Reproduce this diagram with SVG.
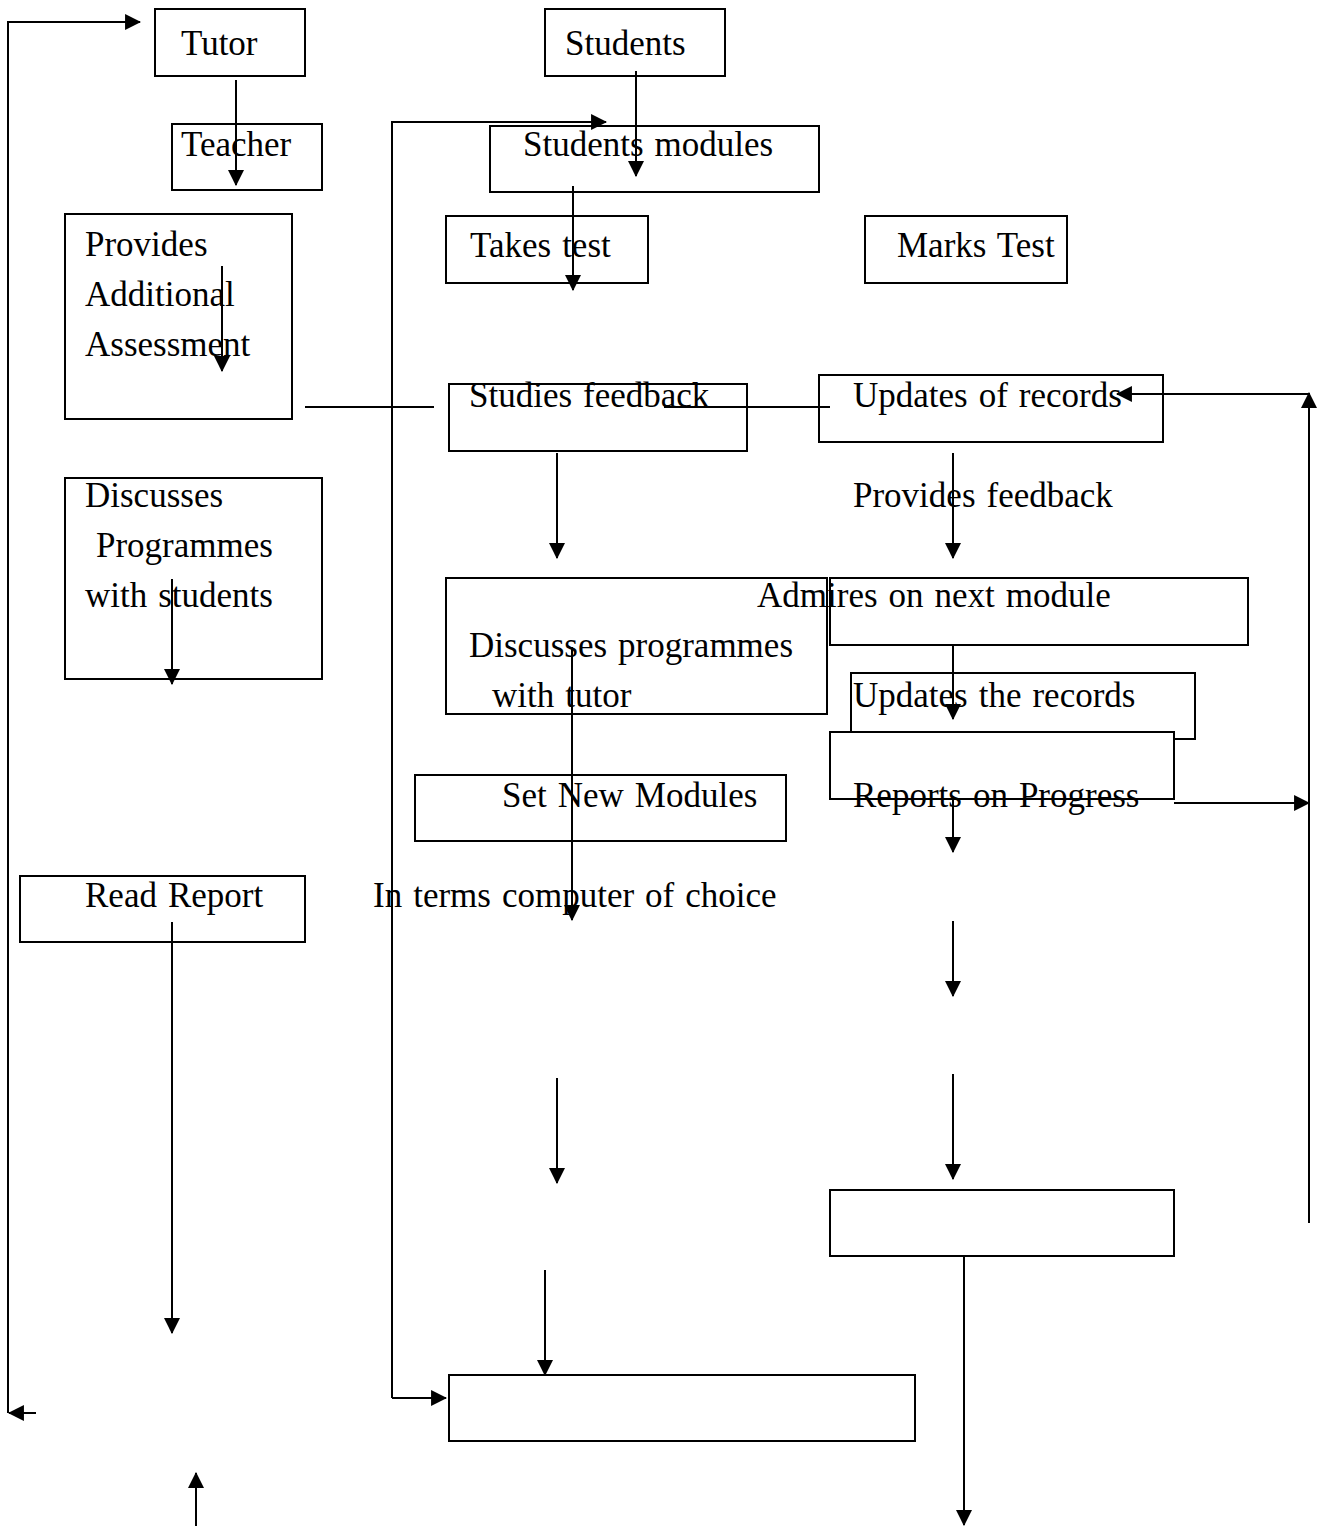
<svg xmlns="http://www.w3.org/2000/svg" width="1322" height="1526" viewBox="0 0 1322 1526">
<style>
.box{fill:#fff;stroke:#000;stroke-width:2}
.t{font-family:"Liberation Serif","Times New Roman",serif;font-size:35px;word-spacing:2.25px;fill:#000}
.c{fill:none;stroke:#000;stroke-width:2}
.a{marker-end:url(#arr)}
</style>
<defs>
<marker id="arr" markerUnits="userSpaceOnUse" markerWidth="16" markerHeight="16" viewBox="0 0 15 15" refX="14" refY="7.5" orient="auto">
<path d="M0,0 L15,7.5 L0,15 z" fill="#000"/>
</marker>
</defs>
<rect width="1322" height="1526" fill="#fff"/>

<g id="tutor"><rect class="box" x="155" y="9" width="150" height="67"/><text class="t" x="181" y="55">Tutor</text></g>
<g id="students"><rect class="box" x="545" y="9" width="180" height="67"/><text class="t" x="565" y="55">Students</text></g>
<g id="teacher"><rect class="box" x="172" y="124" width="150" height="66"/><text class="t" x="181" y="156">Teacher</text></g>
<g id="students-modules"><rect class="box" x="490" y="126" width="329" height="66"/><text class="t" x="523" y="156">Students modules</text></g>
<g id="provides-assessment"><rect class="box" x="65" y="214" width="227" height="205"/><text class="t" x="85" y="256">Provides</text><text class="t" x="85" y="306">Additional</text><text class="t" x="85" y="356">Assessment</text></g>
<g id="takes-test"><rect class="box" x="446" y="216" width="202" height="67"/><text class="t" x="470" y="257">Takes test</text></g>
<g id="marks-test"><rect class="box" x="865" y="216" width="202" height="67"/><text class="t" x="897" y="257">Marks Test</text></g>
<g id="studies-feedback"><rect class="box" x="449" y="384" width="298" height="67"/><text class="t" x="469" y="407">Studies feedback</text></g>
<g id="updates-of-records"><rect class="box" x="819" y="375" width="344" height="67"/><text class="t" x="853" y="407">Updates of records</text></g>
<g id="discusses-students"><rect class="box" x="65" y="478" width="257" height="201"/><text class="t" x="85" y="507">Discusses</text><text class="t" x="96" y="557">Programmes</text><text class="t" x="85" y="607">with students</text></g>
<g id="provides-feedback"><text class="t" x="853" y="507">Provides feedback</text></g>
<g id="discusses-tutor"><rect class="box" x="446" y="578" width="381" height="136"/><text class="t" x="469" y="657">Discusses programmes</text><text class="t" x="492" y="707">with tutor</text></g>
<g id="admires"><rect class="box" x="830" y="578" width="418" height="67"/><text class="t" x="757" y="607">Admires on next module</text></g>
<g id="updates-the-records"><rect class="box" x="851" y="673" width="344" height="66"/><text class="t" x="853" y="707">Updates the records</text></g>
<g id="reports"><rect class="box" x="830" y="732" width="344" height="67"/><text class="t" x="853" y="807">Reports on Progress</text></g>
<g id="set-new-modules"><rect class="box" x="415" y="775" width="371" height="66"/><text class="t" x="502" y="807">Set New Modules</text></g>
<g id="read-report"><rect class="box" x="20" y="876" width="285" height="66"/><text class="t" x="85" y="907">Read Report</text></g>
<g id="in-terms"><text class="t" x="373" y="907">In terms computer of choice</text></g>
<g id="empty-right"><rect class="box" x="830" y="1190" width="344" height="66"/></g>
<g id="empty-bottom"><rect class="box" x="449" y="1375" width="466" height="66"/></g>

<g id="connectors">
<path class="c a" d="M36,1413 L9,1413"/>
<path class="c a" d="M8,1413 L8,22 L140,22"/>
<path class="c a" d="M196,1526 L196,1473"/>
<path class="c a" d="M236,80 L236,185"/>
<path class="c a" d="M636,71 L636,176"/>
<path class="c a" d="M392,1398 L446,1398"/>
<path class="c a" d="M392,1398 L392,122 L606,122"/>
<path class="c a" d="M573,186 L573,290"/>
<path class="c a" d="M222,266 L222,371"/>
<path class="c a" d="M172,579 L172,684"/>
<path class="c" d="M305,407 L434,407"/>
<path class="c" d="M664,407 L830,407"/>
<path class="c a" d="M557,453 L557,558"/>
<path class="c a" d="M953,453 L953,558"/>
<path class="c a" d="M953,645 L953,719"/>
<path class="c a" d="M572,647 L572,920"/>
<path class="c a" d="M953,799 L953,852"/>
<path class="c a" d="M1174,803 L1309,803"/>
<path class="c a" d="M1309,1223 L1309,393"/>
<path class="c a" d="M1309,394 L1117,394"/>
<path class="c a" d="M953,921 L953,996"/>
<path class="c a" d="M953,1074 L953,1179"/>
<path class="c a" d="M557,1078 L557,1183"/>
<path class="c a" d="M545,1270 L545,1375"/>
<path class="c a" d="M964,1256 L964,1525"/>
<path class="c a" d="M172,922 L172,1333"/>
</g>
</svg>
